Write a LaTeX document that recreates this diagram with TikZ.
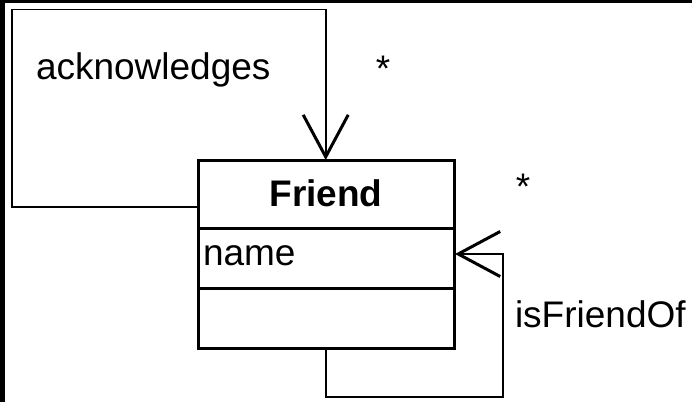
\documentclass[tikz,border=0pt]{standalone}
\usepackage{fontspec}
\setmainfont{Liberation Sans}
\usetikzlibrary{arrows.meta}
\begin{document}
\begin{tikzpicture}[x=1pt,y=-1pt,
  every node/.style={inner sep=0pt,outer sep=0pt,font=\fontsize{37}{44}\selectfont},
  classbox/.style={draw,line width=3pt,minimum width=256pt,minimum height=188pt},
  divider/.style={line width=3pt},
  assoc/.style={line width=1.8pt,-{Straight Barb[length=42pt,width=45pt,line width=3pt]}},
  label/.style={anchor=base west},
  mult/.style={anchor=base}]
  % canvas and frame strips
  \fill[white] (0,0) rectangle (692,402);
  \fill[black] (0,0) rectangle (692,3.3);
  \fill[black] (0,0) rectangle (5,402);
  \useasboundingbox (0,0) rectangle (692,402);

  % class Friend
  \node[classbox] (friend) at (326,254) {};
  \draw[divider] (198,228) -- (454,228);
  \draw[divider] (198,288) -- (454,288);
  \node[anchor=base,font=\fontsize{37}{44}\selectfont\bfseries] (fname) at (326,206) {Friend};
  \node[label] (attr) at (203,265) {name};

  % acknowledges self-association
  \coordinate (a1) at (11.7,207);
  \coordinate (a2) at (11.7,9.5);
  \coordinate (a3) at (325.7,9.5);
  \coordinate (ain) at (325.7,160);
  \draw[assoc,line join=miter] (friend.west |- a1) -- (a1) -- (a2) -- (a3) -- (ain);
  \node[label] (ack) at (36,79) {acknowledges};
  \node[mult] (m1) at (383,81) {*};

  % isFriendOf self-association
  \coordinate (b0) at (325.7,348);
  \coordinate (b1) at (325.7,397);
  \coordinate (b2) at (502.7,397);
  \coordinate (b3) at (502.7,254);
  \coordinate (bin) at (455,254);
  \draw[assoc,line join=miter] (b0) -- (b1) -- (b2) -- (b3) -- (bin);
  \node[label] (isf) at (515,327) {isFriendOf};
  \node[mult] (m2) at (523,199) {*};
\end{tikzpicture}
\end{document}
